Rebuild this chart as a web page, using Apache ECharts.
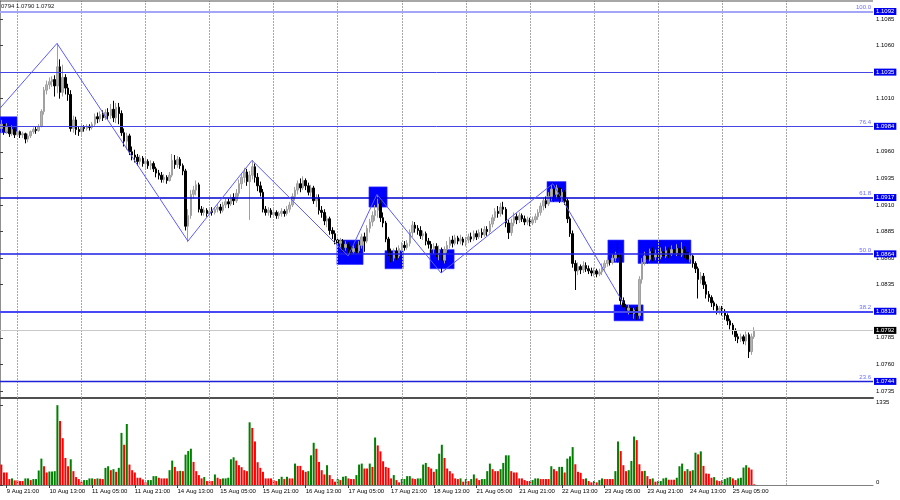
<!DOCTYPE html>
<html><head><meta charset="utf-8">
<script src="https://cdn.jsdelivr.net/npm/echarts@6/dist/echarts.min.js"></script>
<style>html,body{margin:0;padding:0;background:#fff}#c{width:900px;height:500px}</style>
</head><body><div id="c"></div>
<script>
// ---- DATA ----
const headerText = '0794 1.0790 1.0792';
// [open, close, low, high] per H1 bar
const candles = [
[1.0982,1.0986,1.0978,1.0990],[1.0986,1.0979,1.0976,1.0988],[1.0979,1.0984,1.0977,1.0987],[1.0984,1.0977,1.0974,1.0986],[1.0977,1.0981,1.0975,1.0985],
[1.0981,1.0976,1.0973,1.0983],[1.0976,1.0979,1.0974,1.0982],[1.0979,1.0976,1.0973,1.0980],[1.0976,1.0977,1.0973,1.0979],[1.0977,1.0972,1.0968,1.0978],
[1.0972,1.0975,1.0969,1.0977],[1.0975,1.0979,1.0973,1.0980],[1.0979,1.0981,1.0977,1.0983],[1.0981,1.0980,1.0977,1.0984],[1.0980,1.0984,1.0979,1.0986],
[1.0984,1.0998,1.0983,1.1000],[1.0998,1.1018,1.0995,1.1021],[1.1018,1.1023,1.1014,1.1027],[1.1023,1.1026,1.1019,1.1030],[1.1026,1.1028,1.1021,1.1031],
[1.1028,1.1022,1.1012,1.1032],[1.1022,1.1040,1.1015,1.1062],[1.1040,1.1016,1.1010,1.1047],[1.1016,1.1030,1.1012,1.1042],[1.1030,1.1020,1.1014,1.1033],
[1.1020,1.1014,1.1008,1.1024],[1.1014,1.0982,1.0979,1.1018],[1.0982,1.0990,1.0978,1.0994],[1.0990,1.0981,1.0976,1.0993],[1.0981,1.0979,1.0975,1.0984],
[1.0979,1.0983,1.0976,1.0986],[1.0983,1.0982,1.0979,1.0985],[1.0982,1.0984,1.0980,1.0986],[1.0984,1.0983,1.0980,1.0986],[1.0983,1.0986,1.0981,1.0988],
[1.0986,1.0993,1.0984,1.0996],[1.0993,1.0991,1.0987,1.0997],[1.0991,1.0995,1.0988,1.0998],[1.0995,1.0992,1.0989,1.0999],[1.0992,1.0997,1.0990,1.1000],
[1.0997,1.0994,1.0990,1.1001],[1.0994,1.1000,1.0991,1.1005],[1.1000,1.0992,1.0988,1.1008],[1.0992,1.1002,1.0987,1.1006],[1.1002,1.0996,1.0986,1.1006],
[1.0996,1.0978,1.0975,1.0999],[1.0978,1.0970,1.0965,1.0982],[1.0970,1.0975,1.0962,1.0978],[1.0975,1.0960,1.0957,1.0977],[1.0960,1.0957,1.0952,1.0965],
[1.0957,1.0955,1.0950,1.0962],[1.0955,1.0951,1.0947,1.0958],[1.0951,1.0954,1.0948,1.0957],[1.0954,1.0949,1.0946,1.0956],[1.0949,1.0951,1.0945,1.0954],
[1.0951,1.0947,1.0944,1.0953],[1.0947,1.0949,1.0943,1.0952],[1.0949,1.0944,1.0941,1.0951],[1.0944,1.0940,1.0936,1.0946],[1.0940,1.0938,1.0934,1.0943],
[1.0938,1.0934,1.0931,1.0941],[1.0934,1.0936,1.0931,1.0939],[1.0936,1.0933,1.0930,1.0938],[1.0933,1.0938,1.0932,1.0941],[1.0938,1.0952,1.0936,1.0958],
[1.0952,1.0948,1.0944,1.0957],[1.0948,1.0953,1.0945,1.0956],[1.0953,1.0947,1.0944,1.0955],[1.0947,1.0942,1.0938,1.0949],[1.0942,1.0890,1.0886,1.0944],
[1.0890,1.0900,1.0875,1.0906],[1.0900,1.0920,1.0897,1.0924],[1.0920,1.0924,1.0916,1.0928],[1.0924,1.0929,1.0919,1.0933],[1.0929,1.0906,1.0903,1.0931],
[1.0906,1.0903,1.0900,1.0909],[1.0903,1.0905,1.0900,1.0908],[1.0905,1.0902,1.0899,1.0907],[1.0902,1.0904,1.0900,1.0907],[1.0904,1.0903,1.0900,1.0908],
[1.0903,1.0906,1.0901,1.0908],[1.0906,1.0908,1.0903,1.0911],[1.0908,1.0905,1.0902,1.0911],[1.0905,1.0910,1.0903,1.0913],[1.0910,1.0913,1.0907,1.0916],
[1.0913,1.0911,1.0907,1.0916],[1.0911,1.0917,1.0909,1.0920],[1.0917,1.0914,1.0910,1.0921],[1.0914,1.0921,1.0912,1.0925],[1.0921,1.0930,1.0918,1.0934],
[1.0930,1.0936,1.0925,1.0940],[1.0936,1.0941,1.0931,1.0945],[1.0941,1.0932,1.0928,1.0944],[1.0932,1.0938,1.0896,1.0942],[1.0938,1.0946,1.0934,1.0952],
[1.0946,1.0936,1.0931,1.0949],[1.0936,1.0928,1.0923,1.0940],[1.0928,1.0922,1.0918,1.0932],[1.0922,1.0906,1.0903,1.0925],[1.0906,1.0903,1.0900,1.0909],
[1.0903,1.0905,1.0900,1.0908],[1.0905,1.0901,1.0898,1.0907],[1.0901,1.0903,1.0899,1.0906],[1.0903,1.0900,1.0897,1.0905],[1.0900,1.0902,1.0897,1.0904],
[1.0902,1.0904,1.0899,1.0907],[1.0904,1.0902,1.0899,1.0906],[1.0902,1.0906,1.0900,1.0909],[1.0906,1.0910,1.0903,1.0913],[1.0910,1.0918,1.0908,1.0921],
[1.0918,1.0924,1.0914,1.0927],[1.0924,1.0930,1.0920,1.0933],[1.0930,1.0926,1.0922,1.0935],[1.0926,1.0933,1.0924,1.0937],[1.0933,1.0928,1.0924,1.0935],
[1.0928,1.0922,1.0919,1.0931],[1.0922,1.0926,1.0918,1.0929],[1.0926,1.0914,1.0911,1.0928],[1.0914,1.0917,1.0908,1.0920],[1.0917,1.0905,1.0901,1.0920],
[1.0905,1.0903,1.0898,1.0909],[1.0903,1.0895,1.0891,1.0906],[1.0895,1.0897,1.0889,1.0900],[1.0897,1.0886,1.0882,1.0899],[1.0886,1.0883,1.0878,1.0889],
[1.0883,1.0877,1.0873,1.0886],[1.0877,1.0874,1.0870,1.0880],[1.0874,1.0876,1.0870,1.0879],[1.0876,1.0870,1.0866,1.0878],[1.0870,1.0873,1.0867,1.0876],
[1.0873,1.0868,1.0863,1.0875],[1.0868,1.0866,1.0863,1.0871],[1.0866,1.0869,1.0864,1.0872],[1.0869,1.0867,1.0864,1.0873],[1.0867,1.0872,1.0865,1.0876],
[1.0872,1.0880,1.0869,1.0883],[1.0880,1.0876,1.0866,1.0884],[1.0876,1.0888,1.0874,1.0891],[1.0888,1.0894,1.0884,1.0897],[1.0894,1.0900,1.0890,1.0904],
[1.0900,1.0905,1.0895,1.0910],[1.0905,1.0911,1.0898,1.0919],[1.0911,1.0898,1.0894,1.0915],[1.0898,1.0893,1.0889,1.0903],[1.0893,1.0878,1.0875,1.0895],
[1.0878,1.0866,1.0862,1.0880],[1.0866,1.0860,1.0856,1.0869],[1.0860,1.0866,1.0857,1.0869],[1.0866,1.0862,1.0858,1.0870],[1.0862,1.0869,1.0860,1.0872],
[1.0869,1.0872,1.0866,1.0875],[1.0872,1.0870,1.0867,1.0876],[1.0870,1.0874,1.0868,1.0877],[1.0874,1.0884,1.0871,1.0887],[1.0884,1.0891,1.0880,1.0895],
[1.0891,1.0888,1.0884,1.0894],[1.0888,1.0886,1.0882,1.0891],[1.0886,1.0881,1.0878,1.0890],[1.0881,1.0883,1.0877,1.0886],[1.0883,1.0876,1.0872,1.0885],
[1.0876,1.0873,1.0869,1.0879],[1.0873,1.0869,1.0865,1.0876],[1.0869,1.0871,1.0864,1.0874],[1.0871,1.0865,1.0861,1.0874],[1.0865,1.0868,1.0858,1.0872],
[1.0868,1.0858,1.0846,1.0870],[1.0858,1.0868,1.0855,1.0871],[1.0868,1.0872,1.0865,1.0876],[1.0872,1.0877,1.0869,1.0880],[1.0877,1.0874,1.0870,1.0881],
[1.0874,1.0879,1.0872,1.0882],[1.0879,1.0876,1.0873,1.0881],[1.0876,1.0878,1.0873,1.0882],[1.0878,1.0875,1.0872,1.0880],[1.0875,1.0877,1.0871,1.0880],
[1.0877,1.0880,1.0874,1.0883],[1.0880,1.0878,1.0875,1.0884],[1.0878,1.0883,1.0876,1.0886],[1.0883,1.0880,1.0877,1.0886],[1.0880,1.0884,1.0878,1.0887],
[1.0884,1.0882,1.0879,1.0888],[1.0882,1.0887,1.0880,1.0890],[1.0887,1.0885,1.0881,1.0890],[1.0885,1.0892,1.0883,1.0895],[1.0892,1.0898,1.0889,1.0901],
[1.0898,1.0904,1.0895,1.0907],[1.0904,1.0902,1.0898,1.0909],[1.0902,1.0908,1.0899,1.0912],[1.0908,1.0906,1.0901,1.0913],[1.0906,1.0893,1.0889,1.0908],
[1.0893,1.0884,1.0878,1.0896],[1.0884,1.0893,1.0881,1.0897],[1.0893,1.0899,1.0890,1.0903],[1.0899,1.0896,1.0892,1.0902],[1.0896,1.0900,1.0893,1.0903],
[1.0900,1.0897,1.0894,1.0902],[1.0897,1.0894,1.0891,1.0900],[1.0894,1.0896,1.0891,1.0899],[1.0896,1.0893,1.0890,1.0898],[1.0893,1.0896,1.0891,1.0899],
[1.0896,1.0899,1.0893,1.0902],[1.0899,1.0903,1.0896,1.0906],[1.0903,1.0909,1.0900,1.0912],[1.0909,1.0914,1.0905,1.0917],[1.0914,1.0911,1.0907,1.0918],
[1.0911,1.0918,1.0909,1.0922],[1.0918,1.0925,1.0914,1.0929],[1.0925,1.0920,1.0913,1.0931],[1.0920,1.0926,1.0916,1.0929],[1.0926,1.0916,1.0912,1.0929],
[1.0916,1.0922,1.0913,1.0925],[1.0922,1.0914,1.0910,1.0924],[1.0914,1.0897,1.0893,1.0916],[1.0897,1.0883,1.0880,1.0899],[1.0883,1.0855,1.0851,1.0886],
[1.0855,1.0848,1.0830,1.0858],[1.0848,1.0852,1.0844,1.0856],[1.0852,1.0849,1.0845,1.0854],[1.0849,1.0853,1.0846,1.0857],[1.0853,1.0850,1.0847,1.0856],
[1.0850,1.0848,1.0845,1.0853],[1.0848,1.0846,1.0843,1.0851],[1.0846,1.0848,1.0843,1.0851],[1.0848,1.0845,1.0842,1.0850],[1.0845,1.0847,1.0843,1.0850],
[1.0847,1.0851,1.0844,1.0855],[1.0851,1.0855,1.0848,1.0858],[1.0855,1.0858,1.0852,1.0861],[1.0858,1.0856,1.0853,1.0862],[1.0856,1.0860,1.0854,1.0864],
[1.0860,1.0863,1.0857,1.0866],[1.0863,1.0861,1.0856,1.0875],[1.0861,1.0820,1.0816,1.0864],[1.0820,1.0814,1.0809,1.0823],[1.0814,1.0811,1.0806,1.0817],
[1.0811,1.0813,1.0807,1.0816],[1.0813,1.0808,1.0803,1.0815],[1.0808,1.0811,1.0803,1.0813],[1.0811,1.0806,1.0802,1.0814],[1.0806,1.0840,1.0803,1.0843],
[1.0840,1.0856,1.0836,1.0860],[1.0856,1.0862,1.0853,1.0866],[1.0862,1.0859,1.0855,1.0868],[1.0859,1.0866,1.0857,1.0869],[1.0866,1.0861,1.0857,1.0870],
[1.0861,1.0864,1.0858,1.0868],[1.0864,1.0861,1.0857,1.0867],[1.0861,1.0866,1.0859,1.0870],[1.0866,1.0862,1.0858,1.0869],[1.0862,1.0867,1.0860,1.0871],
[1.0867,1.0864,1.0860,1.0870],[1.0864,1.0868,1.0862,1.0872],[1.0868,1.0865,1.0861,1.0871],[1.0865,1.0869,1.0862,1.0873],[1.0869,1.0863,1.0860,1.0872],
[1.0863,1.0868,1.0861,1.0875],[1.0868,1.0865,1.0860,1.0871],[1.0865,1.0859,1.0856,1.0868],[1.0859,1.0862,1.0856,1.0865],[1.0862,1.0855,1.0851,1.0863],
[1.0855,1.0850,1.0846,1.0857],[1.0850,1.0840,1.0822,1.0852],[1.0840,1.0843,1.0836,1.0847],[1.0843,1.0835,1.0831,1.0846],[1.0835,1.0826,1.0822,1.0838],
[1.0826,1.0823,1.0819,1.0829],[1.0823,1.0818,1.0814,1.0825],[1.0818,1.0815,1.0811,1.0820],[1.0815,1.0811,1.0807,1.0817],[1.0811,1.0813,1.0807,1.0815],
[1.0813,1.0810,1.0806,1.0815],[1.0810,1.0806,1.0802,1.0812],[1.0806,1.0801,1.0797,1.0808],[1.0801,1.0797,1.0793,1.0803],[1.0797,1.0792,1.0788,1.0799],
[1.0792,1.0786,1.0782,1.0794],[1.0786,1.0784,1.0780,1.0789],[1.0784,1.0786,1.0781,1.0789],[1.0786,1.0782,1.0779,1.0788],[1.0782,1.0788,1.0778,1.0791],
[1.0788,1.0772,1.0766,1.0790],[1.0772,1.0786,1.0769,1.0789],[1.0786,1.0792,1.0784,1.0795]
];
const volumes = [
341,209,209,99,110,77,77,66,66,110,
110,82,99,99,242,440,313,209,225,225,
231,1331,1067,781,451,313,429,231,132,99,
55,82,82,110,110,99,110,104,99,286,
313,247,264,220,286,869,671,1017,341,247,
209,121,121,93,44,82,82,148,148,121,
110,110,110,247,407,302,231,236,231,506,
566,605,385,231,165,110,132,66,66,66,
176,121,99,110,110,121,429,462,407,330,
297,247,231,1045,951,726,380,286,220,110,
110,110,82,66,99,137,99,137,110,110,
357,319,319,247,220,231,495,704,605,385,
247,176,330,165,99,55,99,82,137,148,
110,99,99,165,341,357,275,275,357,302,
792,660,561,396,302,286,110,165,82,44,
99,99,148,148,110,99,110,110,341,368,
302,275,220,264,522,671,451,275,231,192,
110,99,110,55,99,66,99,176,110,82,
99,99,231,357,264,231,231,264,368,495,
495,231,209,209,110,110,82,66,66,82,
110,110,99,99,99,99,313,264,231,302,
302,209,440,478,632,346,220,203,99,110,
66,44,66,44,82,110,99,99,99,99,
231,726,566,330,231,247,401,808,748,346,
231,236,148,99,110,55,66,66,110,121,
88,88,88,121,313,357,231,264,231,247,
539,511,561,319,192,187,121,132,77,66,
82,99,121,132,110,82,110,121,291,330,
291,258,12
];
const dateLabels = ['9 Aug 21:00','10 Aug 13:00','11 Aug 05:00','11 Aug 21:00','14 Aug 13:00','15 Aug 05:00',
  '15 Aug 21:00','16 Aug 13:00','17 Aug 05:00','17 Aug 21:00','18 Aug 13:00','21 Aug 05:00',
  '21 Aug 21:00','22 Aug 13:00','23 Aug 05:00','23 Aug 21:00','24 Aug 13:00','25 Aug 05:00'];
const priceTicks = [1.0735,1.0760,1.0785,1.0810,1.0835,1.0860,1.0885,1.0910,1.0935,1.0960,1.0985,1.1010,1.1035,1.1060,1.1085];
const volumeTicks = [0, 1335];
const fibPrices = [1.1092, 1.1035, 1.0984, 1.0917, 1.0864, 1.0810, 1.0744];
const fibNames  = ['100.0', '', '76.4', '61.8', '50.0', '38.2', '23.6'];
const lastPrice = 1.0792;
// zigzag pivots: [bar position, price]
const zigzag = [[0,1.1001],[21.35,1.1062],[70.4,1.0876],[94.4,1.0952],[130.4,1.0862],[141.2,1.0920],[165.2,1.0846],[207.1,1.0930],[233.4,1.0818]];
// rectangles: [barStart, barEnd, priceLow, priceHigh]
const boxes = [[0,6.4,1.0978,1.0993],[126.2,136.0,1.0854,1.0877],[138.2,145.0,1.0908,1.0927],[144.2,151.0,1.0850,1.0867],
  [161.1,170.1,1.0850,1.0868],[204.9,212.0,1.0913,1.0932],[227.7,233.7,1.0856,1.0877],[230.0,240.9,1.0801,1.0816],[239.0,258.8,1.0855,1.0877]];

// ---- LAYOUT / STYLE ----
const NBARS = 327, FIRST_LABEL_BAR = 2, LABEL_STEP = 16, GRID_FIRST = 6, GRID_STEP = 24, GRID_COUNT = 13;
const FONT = 'Liberation Sans, Arial, sans-serif';
const fibStyles = [
  {color:'#a4a4f8', width:2}, {color:'#4646e6', width:1}, {color:'#4646e6', width:1},
  {color:'#0000d0', width:1.6}, {color:'#1e1ee6', width:1.5}, {color:'#4848f5', width:2}, {color:'#2020d8', width:1.3}
];

const cats = [];
for (let i = 0; i < NBARS; i++) cats.push(String(i));

const volColored = [];
let prevColor = '#ff0000';
for (let i = 0; i < volumes.length; i++) {
  let c = prevColor;
  if (i > 0) { if (volumes[i] > volumes[i-1]) c = '#008000'; else if (volumes[i] < volumes[i-1]) c = '#ff0000'; }
  prevColor = c;
  volColored.push({value: volumes[i], itemStyle: {color: c}});
}

const labelInterval = (idx) => idx >= FIRST_LABEL_BAR && (idx - FIRST_LABEL_BAR) % LABEL_STEP === 0 && (idx - FIRST_LABEL_BAR) / LABEL_STEP < dateLabels.length;

const vGrid = [];
for (let k = 0; k < GRID_COUNT; k++) vGrid.push(GRID_FIRST + GRID_STEP * k + 0.5);
const gridLineStyle = {color:'#a8a8a8', width:1, type:[2,1]};

function hLine(p, lineStyle, label) {
  return [{coord:[0, p], lineStyle: lineStyle, label: label}, {coord:[NBARS, p]}];
}
const boxLabel = (txt, bg) => ({show:true, position:'end', formatter: txt, color:'#fff', backgroundColor:bg,
          fontSize:6, lineHeight:7, padding:[0,2,0,2], distance:1, fontFamily:FONT});

const fibLineData = fibPrices.map((p, i) => hLine(p,
  {color: fibStyles[i].color, width: fibStyles[i].width, type:'solid', opacity:1},
  boxLabel(p.toFixed(4), '#0000f0')));
fibLineData.push(hLine(lastPrice, {color:'#c8c8c8', width:1, type:'solid', opacity:1}, boxLabel(lastPrice.toFixed(4), '#000')));

const fibNameData = [];
fibPrices.forEach((p, i) => {
  if (fibNames[i]) fibNameData.push(hLine(p, {color:'rgba(0,0,0,0)', width:0, opacity:1},
    {show:true, position:'insideEndTop', formatter: fibNames[i], color:'#6c6cff', fontSize:6, distance:[2,1], fontFamily:FONT}));
});

const option = {
  animation: false,
  backgroundColor: '#fff',
  grid: [
    {left:0, top:1, width:873, height:397},
    {left:0, top:399, width:873, height:86}
  ],
  xAxis: [
    {type:'category', gridIndex:0, data:cats, boundaryGap:true,
     axisLine:{show:true, lineStyle:{color:'#505050', width:2}}, axisTick:{show:false}, axisLabel:{show:false}, splitLine:{show:false}},
    {type:'category', gridIndex:1, data:cats, boundaryGap:true,
     axisLine:{show:true, lineStyle:{color:'#808080', width:1}},
     axisTick:{show:true, interval: labelInterval, alignWithLabel:true, length:3, lineStyle:{color:'#404040'}},
     axisLabel:{show:true, interval: labelInterval, align:'left', margin:3, fontSize:6, color:'#000', fontFamily:FONT,
       formatter:(v, idx) => dateLabels[(idx - FIRST_LABEL_BAR) / LABEL_STEP] || ''},
     splitLine:{show:false}},
    {type:'value', gridIndex:0, min:0, max:NBARS, show:false},
    {type:'value', gridIndex:1, min:0, max:NBARS, show:false}
  ],
  yAxis: [
    {type:'value', gridIndex:0, position:'right', min:1.07284, max:1.11019, scale:true,
     axisLine:{show:true, lineStyle:{color:'#909090'}},
     axisTick:{show:true, length:3, customValues: priceTicks, lineStyle:{color:'#404040'}},
     axisLabel:{show:true, customValues: priceTicks, margin:3, fontSize:6, color:'#000', fontFamily:FONT, formatter:(v)=>v.toFixed(4)},
     splitLine:{show:false}},
    {type:'value', gridIndex:1, position:'right', min:0, max:1434,
     axisLine:{show:true, lineStyle:{color:'#909090'}},
     axisTick:{show:true, length:3, customValues: volumeTicks, lineStyle:{color:'#404040'}},
     axisLabel:{show:true, customValues: volumeTicks, margin:3, fontSize:6, color:'#000', fontFamily:FONT, verticalAlign:'bottom',
       formatter:(v)=>String(Math.round(v))},
     splitLine:{show:false}}
  ],
  series: [
    {type:'line', xAxisIndex:2, yAxisIndex:0, data:[], z:1, silent:true,
     markLine:{silent:true, symbol:'none', label:{show:false}, lineStyle:gridLineStyle,
       data: vGrid.map(x => [{coord:[x, 1.07284]}, {coord:[x, 1.11019]}])}},
    {type:'line', xAxisIndex:3, yAxisIndex:1, data:[], z:1, silent:true,
     markLine:{silent:true, symbol:'none', label:{show:false}, lineStyle:gridLineStyle,
       data: vGrid.map(x => [{coord:[x, 0]}, {coord:[x, 1434]}])}},
    {type:'line', xAxisIndex:2, yAxisIndex:0, data:[], z:2, silent:true,
     markArea:{silent:true, itemStyle:{color:'#0000ff', opacity:1, borderColor:'#3030ff', borderWidth:0.6},
       data: boxes.map(b => [{coord:[b[0], b[3]]}, {coord:[b[1], b[2]]}])}},
    {type:'candlestick', xAxisIndex:0, yAxisIndex:0, data:candles, z:4, barWidth:2,
     itemStyle:{color:'#b4b4b4', color0:'#000000', borderColor:'#a0a0a0', borderColor0:'#000000', borderWidth:1}},
    {type:'line', xAxisIndex:2, yAxisIndex:0, data:[], z:5, silent:true,
     markLine:{silent:true, symbol:'none', data: fibLineData}},
    {type:'line', xAxisIndex:2, yAxisIndex:0, data:[], z:5, silent:true,
     markLine:{silent:true, symbol:'none', data: fibNameData}},
    {type:'line', xAxisIndex:2, yAxisIndex:0, data:zigzag, z:6, symbol:'none', silent:true,
     lineStyle:{color:'#5a5aff', width:1}},
    {type:'bar', xAxisIndex:1, yAxisIndex:1, data:volColored, barWidth:2, z:4, silent:true}
  ],
  graphic: [
    {type:'rect', shape:{x:0, y:0.5, width:873, height:1}, style:{fill:'#505050'}, z:100, silent:true},
    {type:'text', left:1, top:3, style:{text:headerText, fontSize:6, fill:'#202020', fontFamily:FONT}, z:100, silent:true}
  ]
};
const chart = echarts.init(document.getElementById('c'), null, {renderer:'canvas'});
chart.setOption(option);
</script></body></html>
